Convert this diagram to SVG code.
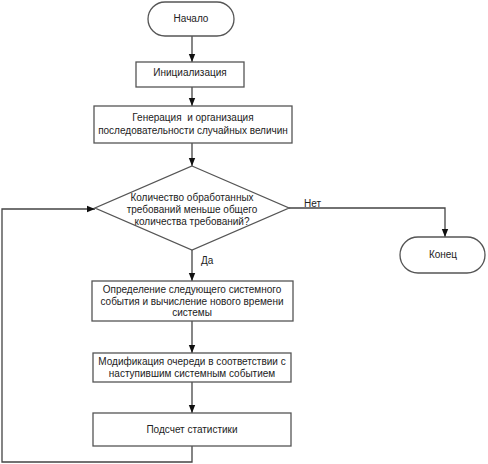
<svg xmlns="http://www.w3.org/2000/svg" width="488" height="464" viewBox="0 0 488 464">
<style>
.s{fill:#fff;stroke:#555;stroke-width:1.3}
.c{fill:none;stroke:#444;stroke-width:1.3}
text{font-family:"Liberation Sans",Arial,sans-serif;font-size:10px;fill:#222;text-anchor:middle}
.l{text-anchor:start}
</style>
<defs>
<marker id="a" viewBox="0 0 8 8" refX="8" refY="4" markerWidth="8" markerHeight="8" markerUnits="userSpaceOnUse" orient="auto">
<path d="M0,0.8 L8,4 L0,7.2 Z" fill="#111"/>
</marker>
</defs>
<rect width="488" height="464" fill="#fff"/>
<g id="connectors">
<path class="c" d="M192,36 V62" marker-end="url(#a)"/>
<path class="c" d="M192,87 V106" marker-end="url(#a)"/>
<path class="c" d="M192,143 V166" marker-end="url(#a)"/>
<path class="c" d="M192,250 V281" marker-end="url(#a)"/>
<path class="c" d="M192,321 V353" marker-end="url(#a)"/>
<path class="c" d="M192,382 V413" marker-end="url(#a)"/>
<path class="c" d="M192,446 V462 H2 V209 H95" marker-end="url(#a)"/>
<path class="c" d="M289,208 H445 V237" marker-end="url(#a)"/>
<text class="l" x="304" y="207">Нет</text>
<text class="l" x="201" y="264">Да</text>
</g>
<g id="start">
<rect class="s" x="148" y="2" width="86" height="34" rx="17"/>
<text x="191" y="22">Начало</text>
</g>
<g id="init">
<rect class="s" x="136" y="62" width="108" height="25"/>
<text x="190" y="76">Инициализация</text>
</g>
<g id="gen">
<rect class="s" x="94" y="106" width="198" height="37"/>
<text x="193" y="121" xml:space="preserve">Генерация  и организация</text>
<text x="193" y="134">последовательности случайных величин</text>
</g>
<g id="decision">
<path class="s" d="M192,166 L289,208 L192,250 L95,208 Z"/>
<text x="192" y="201">Количество обработанных</text>
<text x="192" y="213">требований меньше общего</text>
<text x="192" y="225">количества требований?</text>
</g>
<g id="end">
<rect class="s" x="400" y="237" width="85" height="36" rx="18"/>
<text x="443" y="258">Конец</text>
</g>
<g id="next">
<rect class="s" x="92" y="281" width="201" height="40"/>
<text x="192" y="293">Определение следующего системного</text>
<text x="192" y="305">события и вычисление нового времени</text>
<text x="192" y="316">системы</text>
</g>
<g id="modify">
<rect class="s" x="93" y="353" width="198" height="29"/>
<text x="192" y="365">Модификация очереди в соответствии с</text>
<text x="192" y="377">наступившим системным событием</text>
</g>
<g id="stats">
<rect class="s" x="93" y="413" width="198" height="33"/>
<text x="192" y="433">Подсчет статистики</text>
</g>
</svg>
